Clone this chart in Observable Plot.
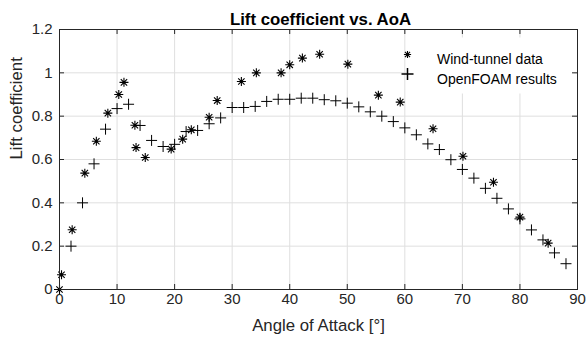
<!DOCTYPE html>
<html>
<head>
<meta charset="utf-8">
<script src="https://cdn.jsdelivr.net/npm/d3@7"></script>
<script src="https://cdn.jsdelivr.net/npm/@observablehq/plot@0.6"></script>
<style>
  html, body { margin: 0; padding: 0; background: white; }
</style>
</head>
<body>
<div id="chart"></div>
<script>
// ---- data ----
const windAoA = [0, 0.35, 2.2, 4.4, 6.4, 8.4, 10.3, 11.2, 13.1, 13.3, 14.9, 19.4, 21.4, 22.9, 26.0, 27.4, 31.6, 34.2, 38.5, 40.0, 42.2, 45.2, 50.1, 55.4, 59.2, 64.9, 70.1, 75.4, 80.0, 84.9];
const windCL  = [0, 0.068, 0.276, 0.537, 0.684, 0.814, 0.90, 0.956, 0.758, 0.655, 0.609, 0.648, 0.694, 0.737, 0.795, 0.872, 0.96, 1.0, 1.0, 1.037, 1.068, 1.086, 1.04, 0.897, 0.865, 0.742, 0.615, 0.495, 0.334, 0.214];

const cfdAoA = [0, 2, 4, 6, 8, 10, 12, 14, 16, 18, 20, 22, 24, 26, 28, 30, 32, 34, 36, 38, 40, 42, 44, 46, 48, 50, 52, 54, 56, 58, 60, 62, 64, 66, 68, 70, 72, 74, 76, 78, 80, 82, 84, 86, 88];
const cfdCL  = [0, 0.20, 0.40, 0.58, 0.74, 0.835, 0.855, 0.757, 0.688, 0.66, 0.67, 0.729, 0.734, 0.765, 0.792, 0.84, 0.84, 0.845, 0.868, 0.878, 0.878, 0.883, 0.883, 0.876, 0.871, 0.86, 0.843, 0.82, 0.80, 0.775, 0.746, 0.714, 0.672, 0.646, 0.599, 0.554, 0.514, 0.467, 0.421, 0.372, 0.326, 0.275, 0.229, 0.169, 0.119];

const xTicks = [0, 10, 20, 30, 40, 50, 60, 70, 80, 90];
const xTickLabels = ["0", "10", "20", "30", "40", "50", "60", "70", "80", "90"];
const yTicks = [0, 0.2, 0.4, 0.6, 0.8, 1, 1.2];
const yTickLabels = ["0", "0.2", "0.4", "0.6", "0.8", "1", "1.2"];

const seriesNames = ["Wind-tunnel data", "OpenFOAM results"];
const titleText = "Lift coefficient vs. AoA";
const xLabel = "Angle of Attack [°]";
const yLabel = "Lift coefficient";

const wind = windAoA.map((a, i) => ({aoa: a, cl: windCL[i]}));
const cfd = cfdAoA.map((a, i) => ({aoa: a, cl: cfdCL[i]}));

// MATLAB-like markers
const asterisk8 = {
  draw(ctx, size) {
    const r = Math.sqrt(size / Math.PI);
    const d = r / Math.SQRT2;
    ctx.moveTo(-r, 0); ctx.lineTo(r, 0);
    ctx.moveTo(0, -r); ctx.lineTo(0, r);
    ctx.moveTo(-d, -d); ctx.lineTo(d, d);
    ctx.moveTo(-d, d); ctx.lineTo(d, -d);
  }
};
const plusSym = {
  draw(ctx, size) {
    const r = Math.sqrt(size / Math.PI);
    ctx.moveTo(-r, 0); ctx.lineTo(r, 0);
    ctx.moveTo(0, -r); ctx.lineTo(0, r);
  }
};

const ink = "#262626";
const font = "'Liberation Sans', Arial, Helvetica, sans-serif";
const starR = 4.5, plusR = 5.5;

const chart = Plot.plot({
  width: 587,
  height: 344,
  marginLeft: 59,
  marginRight: 10,
  marginTop: 29,
  marginBottom: 55,
  style: {fontFamily: font, background: "white", color: ink},
  x: {domain: [0, 90]},
  y: {domain: [0, 1.2]},
  marks: [
    Plot.gridX(xTicks, {stroke: "#dfdfdf", strokeOpacity: 1}),
    Plot.gridY(yTicks, {stroke: "#dfdfdf", strokeOpacity: 1}),
    // data
    Plot.dot(cfd, {x: "aoa", y: "cl", symbol: plusSym, r: plusR, stroke: "black", fill: "none", strokeWidth: 1}),
    Plot.dot(wind, {x: "aoa", y: "cl", symbol: asterisk8, r: starR, stroke: "black", fill: "none", strokeWidth: 1.1}),
    // legend box
    Plot.frame({fill: "white", stroke: null, insetLeft: 347, insetRight: 4, insetTop: 8, insetBottom: 196}),
    Plot.dot([seriesNames[0]], {frameAnchor: "top-left", dx: 348, dy: 25, symbol: asterisk8, r: 3.6, stroke: "black", fill: "none", strokeWidth: 1.1}),
    Plot.dot([seriesNames[1]], {frameAnchor: "top-left", dx: 348, dy: 44.5, symbol: plusSym, r: 6, stroke: "black", fill: "none"}),
    Plot.text([seriesNames[0]], {frameAnchor: "top-left", dx: 377.5, dy: 25, textAnchor: "start", fontSize: 14, fill: "black"}),
    Plot.text([seriesNames[1]], {frameAnchor: "top-left", dx: 377.5, dy: 44.5, textAnchor: "start", fontSize: 14, fill: "black"}),
    // box + inward ticks
    Plot.frame({stroke: ink, strokeWidth: 1}),
    Plot.tickX(xTicks, {x: d => d, insetTop: 255, stroke: ink}),
    Plot.tickX(xTicks, {x: d => d, insetBottom: 255, stroke: ink}),
    Plot.tickY(yTicks, {y: d => d, insetLeft: 513, stroke: ink}),
    Plot.tickY(yTicks, {y: d => d, insetRight: 513, stroke: ink}),
    // tick labels
    Plot.axisX({ticks: xTicks, tickSize: 0, tickPadding: 4, tickFormat: d => xTickLabels[xTicks.indexOf(d)], label: null, fontSize: 15, color: ink}),
    Plot.axisY({ticks: yTicks, tickSize: 0, tickPadding: 7, tickFormat: d => yTickLabels[yTicks.indexOf(d)], label: null, fontSize: 15, color: ink}),
    // titles
    Plot.text([titleText], {frameAnchor: "top", dy: -16, dx: 2, fontWeight: "bold", fontSize: 16.8, fill: "black"}),
    Plot.text([xLabel], {frameAnchor: "bottom", dy: 41, fontSize: 16.8, fill: ink}),
    Plot.text([yLabel], {frameAnchor: "left", dx: -43, rotate: -90, fontSize: 16.8, fill: ink})
  ]
});
document.getElementById("chart").appendChild(chart);
</script>
</body>
</html>
